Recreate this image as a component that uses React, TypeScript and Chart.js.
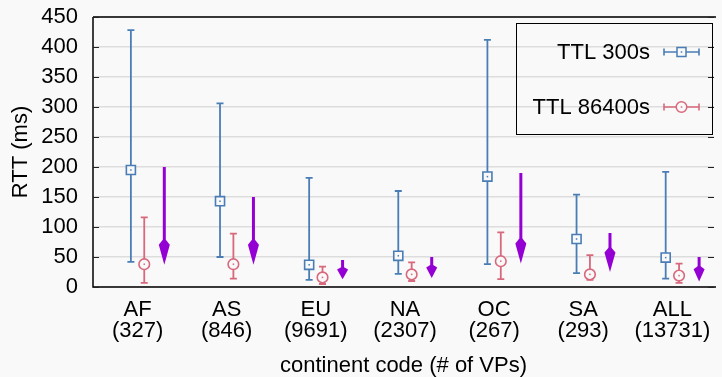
import React, { useEffect, useRef } from 'react';
import { Chart, registerables } from 'chart.js';

Chart.register(...registerables);

// ---- data ----
const continents = ['AF', 'AS', 'EU', 'NA', 'OC', 'SA', 'ALL'];
const vpCounts = [327, 846, 9691, 2307, 267, 293, 13731];

const ttl300Median = [195, 143, 37, 52, 184, 80, 49];
const ttl300Low = [42, 50, 12, 22, 38, 23, 14];
const ttl300High = [428, 306, 182, 160, 412, 154, 192];

const ttl86400Median = [38, 38, 16, 21, 43, 21, 19];
const ttl86400Low = [7, 14, 5, 10, 13, 12, 7];
const ttl86400High = [116, 89, 34, 41, 91, 53, 39];

const arrowFrom = [200, 150, 45, 50, 190, 90, 50];
const arrowTo = [37, 37, 13, 15, 39, 25, 9];

const yTickValues = [0, 50, 100, 150, 200, 250, 300, 350, 400, 450];

const seriesNames = ['TTL 300s', 'TTL 86400s'];

// ---- styles ----
const FONT = '"Liberation Sans", Arial, Helvetica, sans-serif';
const BLUE = '#4a7db5';
const RED = '#d8697d';
const PURPLE = '#9400d3';
const BG = '#f9f9f9';
const OFF_BLUE = -0.075;
const OFF_RED = 0.075;
const OFF_ARROW = 0.3;

const bgPlugin = {
  id: 'bgPlugin',
  beforeDraw(chart: any) {
    const { ctx, width, height } = chart;
    ctx.save();
    ctx.fillStyle = BG;
    ctx.fillRect(0, 0, width, height);
    ctx.restore();
  },
};

const errorBarPlugin = {
  id: 'errorBarPlugin',
  beforeDatasetsDraw(chart: any) {
    const { ctx } = chart;
    const xs = chart.scales.x;
    const ys = chart.scales.y;
    const groups = [
      { off: OFF_BLUE, lo: ttl300Low, hi: ttl300High, color: BLUE },
      { off: OFF_RED, lo: ttl86400Low, hi: ttl86400High, color: RED },
    ];
    ctx.save();
    groups.forEach((g) => {
      ctx.strokeStyle = g.color;
      ctx.lineWidth = 1.8;
      continents.forEach((_, i) => {
        const x = xs.getPixelForValue(i + g.off);
        const y1 = ys.getPixelForValue(g.lo[i]);
        const y2 = ys.getPixelForValue(g.hi[i]);
        ctx.beginPath();
        ctx.moveTo(x, y1);
        ctx.lineTo(x, y2);
        ctx.moveTo(x - 3.5, y1);
        ctx.lineTo(x + 3.5, y1);
        ctx.moveTo(x - 3.5, y2);
        ctx.lineTo(x + 3.5, y2);
        ctx.stroke();
      });
    });
    ctx.restore();
  },
  afterDatasetsDraw(chart: any) {
    const { ctx } = chart;
    const xs = chart.scales.x;
    const ys = chart.scales.y;
    ctx.save();
    [
      { off: OFF_BLUE, v: ttl300Median, color: BLUE },
      { off: OFF_RED, v: ttl86400Median, color: RED },
    ].forEach((g) => {
      ctx.fillStyle = g.color;
      continents.forEach((_, i) => {
        const x = xs.getPixelForValue(i + g.off);
        const y = ys.getPixelForValue(g.v[i]);
        ctx.fillRect(x - 0.75, y - 0.75, 1.5, 1.5);
      });
    });
    ctx.fillStyle = PURPLE;
    ctx.strokeStyle = PURPLE;
    continents.forEach((_, i) => {
      const x = xs.getPixelForValue(i + OFF_ARROW);
      const yTop = ys.getPixelForValue(arrowFrom[i]);
      const yTip = ys.getPixelForValue(arrowTo[i]);
      const len = yTip - yTop;
      const L = Math.min(20, len / 2);
      const B = L * 0.25;
      const hw = 5.5;
      ctx.lineWidth = 3;
      ctx.beginPath();
      ctx.moveTo(x, yTop);
      ctx.lineTo(x, yTip - L - B + 1);
      ctx.stroke();
      ctx.beginPath();
      ctx.moveTo(x, yTip);
      ctx.lineTo(x - hw, yTip - L);
      ctx.lineTo(x - 1.5, yTip - L - B);
      ctx.lineTo(x + 1.5, yTip - L - B);
      ctx.lineTo(x + hw, yTip - L);
      ctx.closePath();
      ctx.fill();
    });
    ctx.restore();
  },
};

const framePlugin = {
  id: 'framePlugin',
  afterDraw(chart: any) {
    const { ctx, chartArea } = chart;
    const ys = chart.scales.y;
    const { left, right, top, bottom } = chartArea;
    ctx.save();
    ctx.strokeStyle = '#000';
    ctx.lineWidth = 1.5;
    ctx.beginPath();
    ctx.moveTo(left, top);
    ctx.lineTo(right + 2, top);
    ctx.moveTo(left, top);
    ctx.lineTo(left, bottom);
    ctx.lineTo(right + 2, bottom);
    ctx.stroke();
    ctx.lineWidth = 1;
    ctx.strokeStyle = '#222';
    yTickValues.forEach((v) => {
      const y = Math.round(ys.getPixelForValue(v)) + 0.5;
      ctx.beginPath();
      ctx.moveTo(left, y);
      ctx.lineTo(left + 6, y);
      ctx.moveTo(right - 6, y);
      ctx.lineTo(right, y);
      ctx.stroke();
    });

    const bx = 516.5, by = 23.5, bw = 196, bh = 111;
    ctx.lineWidth = 1;
    ctx.strokeStyle = '#000';
    ctx.strokeRect(bx, by, bw, bh);
    ctx.font = `22px ${FONT}`;
    ctx.textAlign = 'right';
    ctx.textBaseline = 'middle';
    const rows = [
      { y: 52, color: BLUE, style: 'rect' },
      { y: 107, color: RED, style: 'circle' },
    ];
    rows.forEach((r, k) => {
      ctx.fillStyle = '#000';
      ctx.fillText(seriesNames[k], 650, r.y + 1);
      ctx.strokeStyle = r.color;
      ctx.lineWidth = 1.6;
      ctx.beginPath();
      ctx.moveTo(664, r.y);
      ctx.lineTo(699, r.y);
      ctx.moveTo(664, r.y - 3.5);
      ctx.lineTo(664, r.y + 3.5);
      ctx.moveTo(699, r.y - 3.5);
      ctx.lineTo(699, r.y + 3.5);
      ctx.stroke();
      ctx.fillStyle = BG;
      ctx.lineWidth = 1.5;
      const cx = 681.5;
      if (r.style === 'rect') {
        ctx.fillRect(cx - 4.5, r.y - 4.5, 9, 9);
        ctx.strokeRect(cx - 4.5, r.y - 4.5, 9, 9);
      } else {
        ctx.beginPath();
        ctx.arc(cx, r.y, 5.3, 0, Math.PI * 2);
        ctx.fill();
        ctx.stroke();
      }
      ctx.fillStyle = r.color;
      ctx.fillRect(cx - 0.75, r.y - 0.75, 1.5, 1.5);
    });
    ctx.restore();
  },
};

export default function App() {
  const ref = useRef<HTMLCanvasElement>(null);

  useEffect(() => {
    if (!ref.current) return;
    const chart = new Chart(ref.current, {
      type: 'scatter',
      data: {
        datasets: [
          {
            label: seriesNames[0],
            data: ttl300Median.map((v, i) => ({ x: i + OFF_BLUE, y: v })),
            pointStyle: 'rect',
            pointRadius: 6.4,
            borderColor: BLUE,
            backgroundColor: BG,
            borderWidth: 1.6,
          },
          {
            label: seriesNames[1],
            data: ttl86400Median.map((v, i) => ({ x: i + OFF_RED, y: v })),
            pointStyle: 'circle',
            pointRadius: 5.3,
            borderColor: RED,
            backgroundColor: BG,
            borderWidth: 1.6,
          },
        ],
      },
      options: {
        animation: false,
        responsive: false,
        layout: { padding: { top: 17, left: 0, right: 0, bottom: 0 } },
        plugins: {
          legend: { display: false },
          tooltip: { enabled: false },
        },
        scales: {
          x: {
            type: 'linear',
            min: -0.5,
            max: 6.467,
            afterBuildTicks: (s: any) => {
              s.ticks = continents.map((_, i) => ({ value: i }));
            },
            afterFit: (s: any) => {
              s.height = 90;
              s.paddingLeft = 0;
              s.paddingRight = 0;
            },
            grid: { display: false, drawTicks: false },
            border: { display: false },
            ticks: {
              autoSkip: false,
              maxRotation: 0,
              padding: 12,
              color: '#000',
              font: { family: FONT, size: 22, lineHeight: 0.98 },
              callback: (v: any) => [continents[v], `(${vpCounts[v]})`],
            },
            title: {
              display: true,
              text: 'continent code (# of VPs)',
              color: '#000',
              font: { family: FONT, size: 22, lineHeight: 1.0 },
              padding: { top: 0, bottom: 0 },
            },
          },
          y: {
            min: 0,
            max: 450,
            afterBuildTicks: (s: any) => {
              s.ticks = yTickValues.map((v) => ({ value: v }));
            },
            afterFit: (s: any) => {
              s.width = 93;
              s.paddingTop = 0;
              s.paddingBottom = 0;
            },
            grid: { color: '#dddddd', lineWidth: 1.5, drawTicks: false },
            border: { display: false },
            ticks: {
              autoSkip: false,
              padding: 15,
              color: '#000',
              font: { family: FONT, size: 22 },
            },
            title: {
              display: true,
              text: 'RTT (ms)',
              color: '#000',
              font: { family: FONT, size: 22 },
              padding: { top: 8, bottom: 0 },
            },
          },
        },
      },
      plugins: [bgPlugin, errorBarPlugin, framePlugin],
    });
    return () => chart.destroy();
  }, []);

  return (
    <div style={{ position: 'fixed', left: 0, top: 0, width: 722, height: 377, overflow: 'hidden' }}>
      <canvas ref={ref} width={722} height={377} style={{ display: 'block' }} />
    </div>
  );
}
